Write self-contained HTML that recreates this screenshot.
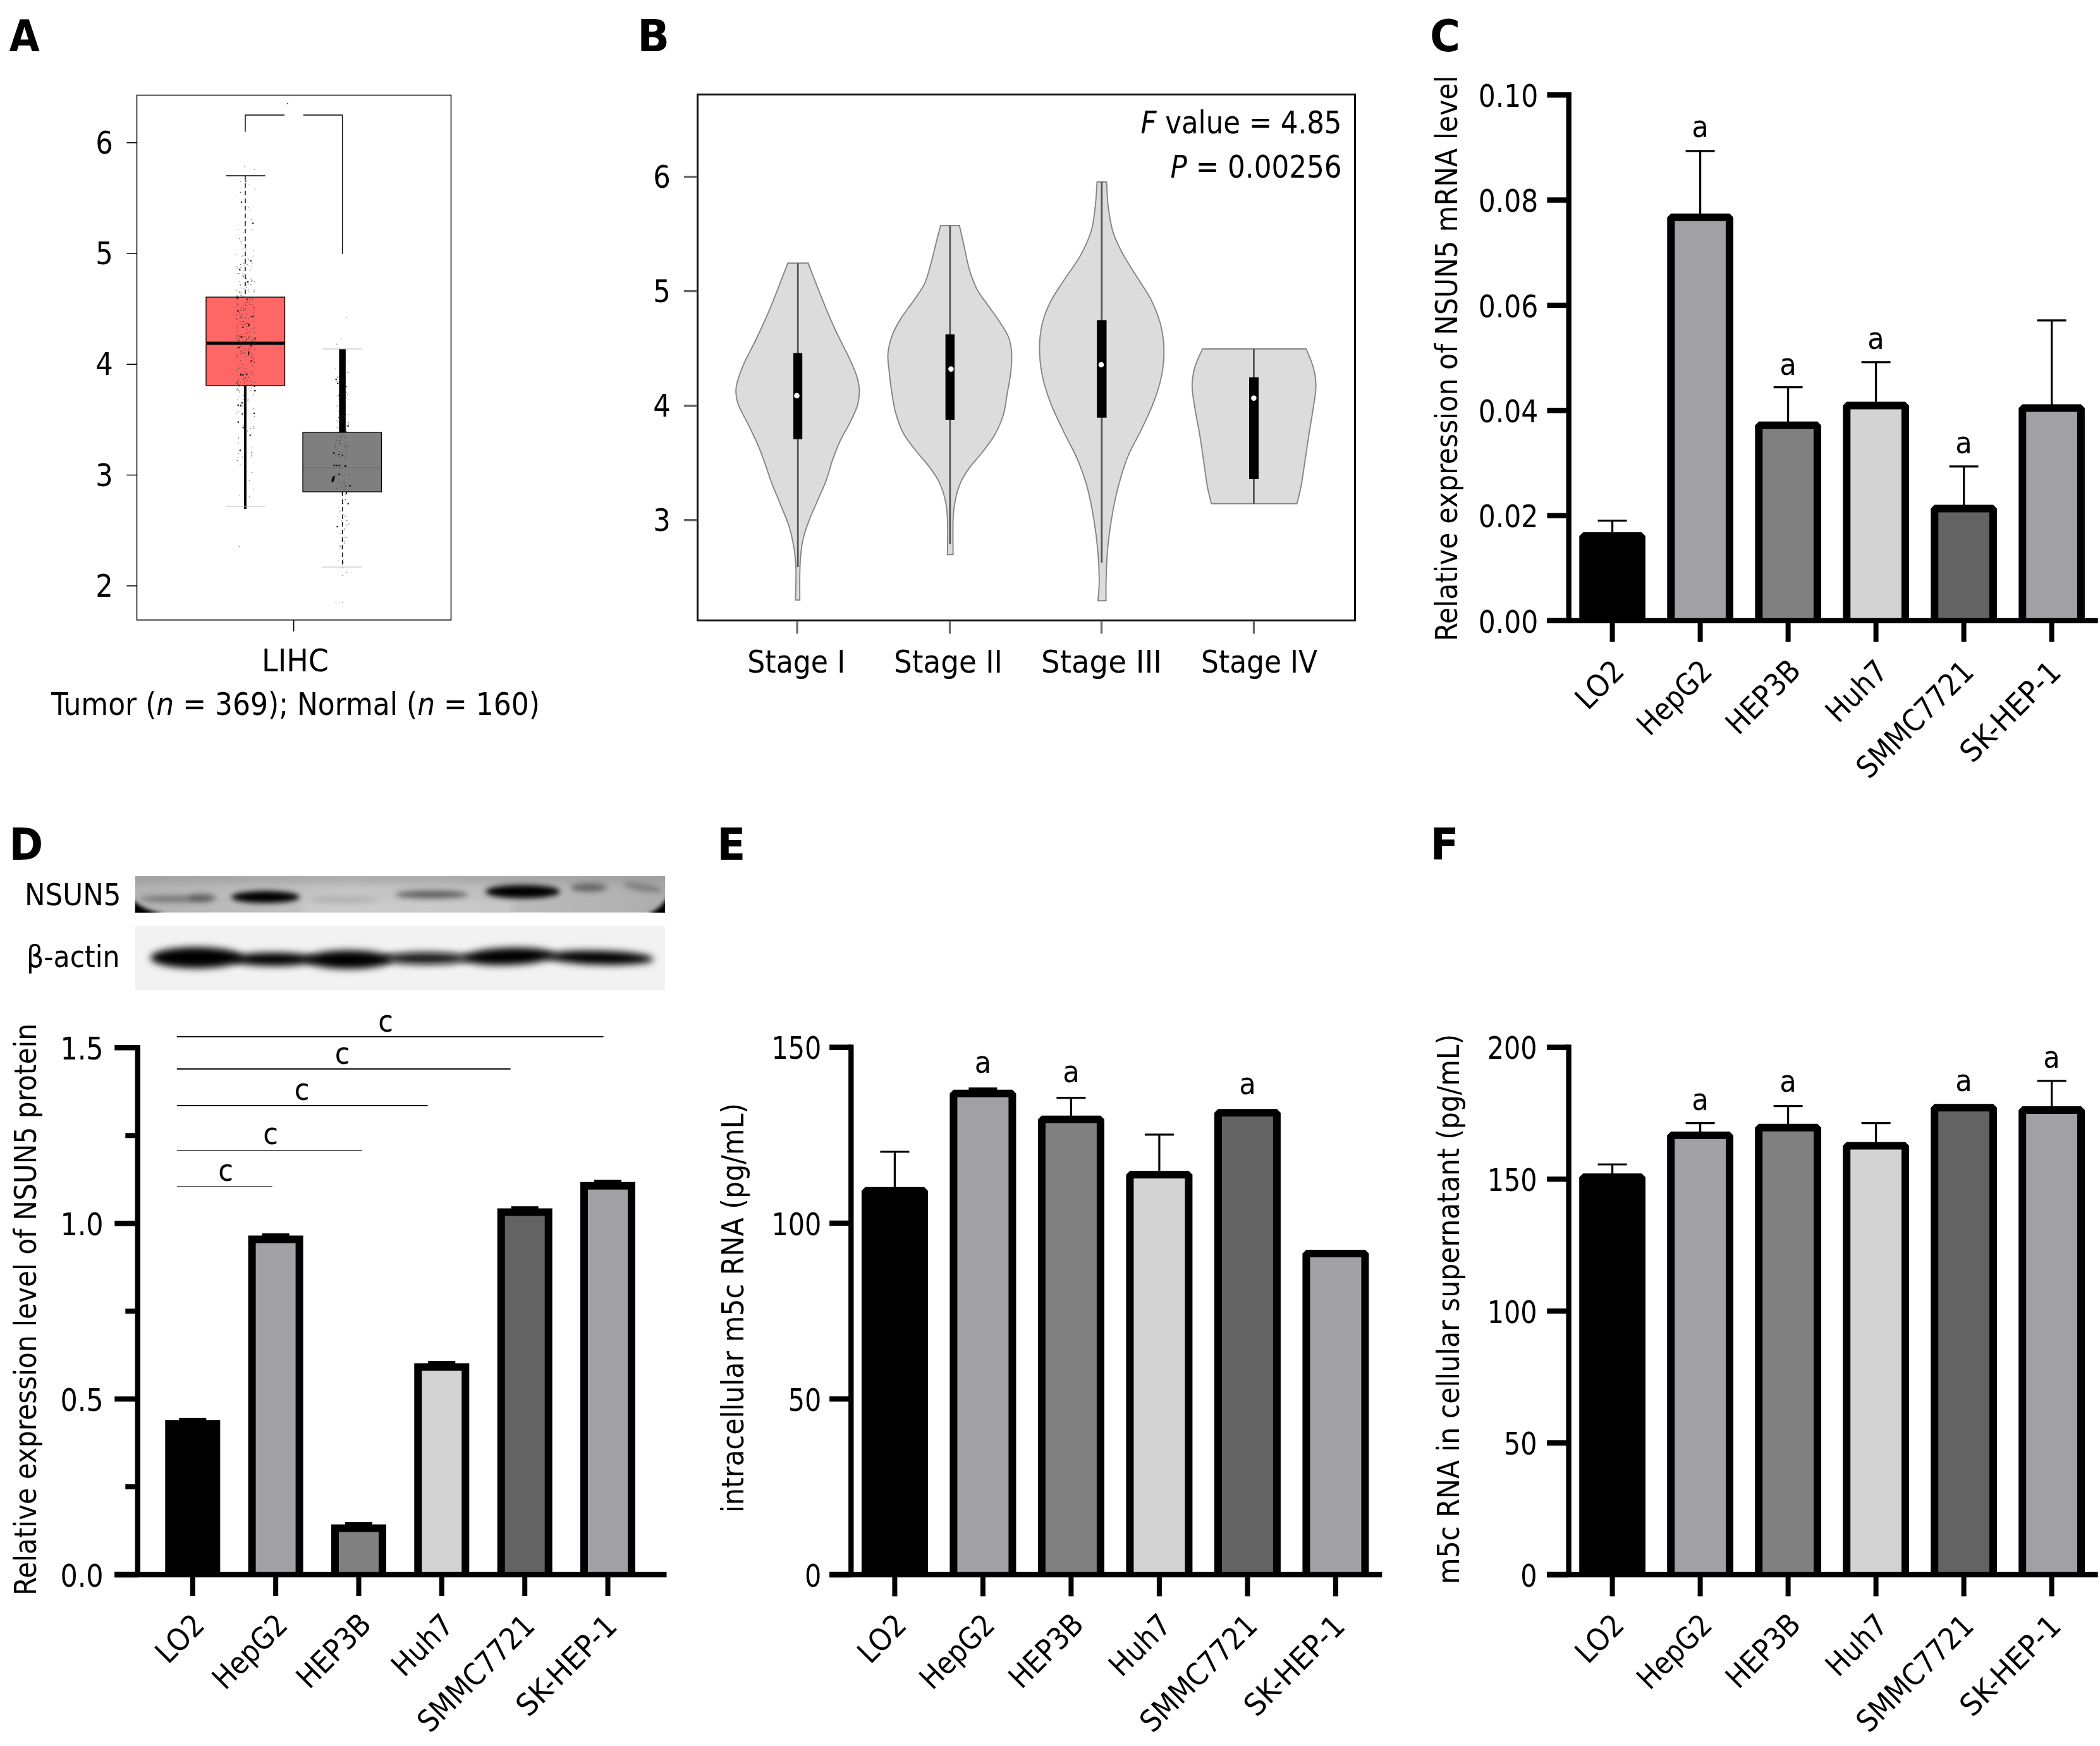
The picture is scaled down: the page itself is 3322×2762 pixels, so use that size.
<!DOCTYPE html>
<html lang="en"><head><meta charset="utf-8"><title>Figure</title>
<style>html,body{margin:0;padding:0;background:#fff}svg{display:block;will-change:transform}text{fill:#000}</style></head>
<body>
<svg width="3322" height="2762" viewBox="0 0 3322 2762" font-family="'DejaVu Sans Condensed', 'DejaVu Sans', 'Liberation Sans', sans-serif" font-stretch="condensed">
<defs>
<filter id="b3" filterUnits="userSpaceOnUse" x="150" y="1340" width="960" height="260"><feGaussianBlur stdDeviation="3"/></filter>
<filter id="b4" filterUnits="userSpaceOnUse" x="150" y="1340" width="960" height="260"><feGaussianBlur stdDeviation="4.5"/></filter>
<filter id="b6" filterUnits="userSpaceOnUse" x="150" y="1340" width="960" height="260"><feGaussianBlur stdDeviation="6"/></filter>
<linearGradient id="g1" x1="0" x2="1" y1="0" y2="0"><stop offset="0" stop-color="#b2b2b2"/><stop offset="0.4" stop-color="#c6c6c6"/><stop offset="0.6" stop-color="#c2c2c2"/><stop offset="1" stop-color="#adadad"/></linearGradient>
<clipPath id="c1"><rect x="213.7" y="1385.7" width="838.3" height="58"/></clipPath>
<clipPath id="c2"><rect x="213.7" y="1464.4" width="838.3" height="101.6"/></clipPath>
</defs>
<rect width="3322" height="2762" fill="#fff"/>

<text x="14.5" y="81" font-size="69.3" font-weight="bold">A</text>
<text x="1008.2" y="81" font-size="69.3" textLength="50.8" lengthAdjust="spacingAndGlyphs" font-weight="bold">B</text>
<text x="2262" y="81" font-size="69.3" textLength="48.0" lengthAdjust="spacingAndGlyphs" font-weight="bold">C</text>
<text x="14.5" y="1360.2" font-size="69.3" textLength="53.8" lengthAdjust="spacingAndGlyphs" font-weight="bold">D</text>
<text x="1134.3" y="1360.2" font-size="69.3" textLength="45.1" lengthAdjust="spacingAndGlyphs" font-weight="bold">E</text>
<text x="2262.6" y="1360.2" font-size="69.3" textLength="45.1" lengthAdjust="spacingAndGlyphs" font-weight="bold">F</text>
<g id="A">
<rect x="326" y="470" width="124.5" height="140" fill="#FF6666" stroke="#000" stroke-width="1.3"/>
<rect x="479" y="684" width="124.5" height="94" fill="#7F7F7F" stroke="#000" stroke-width="1.3"/>
<line x1="480" y1="740" x2="603" y2="740" stroke="#6a6a6a" stroke-width="1"/>
<line x1="388" y1="278" x2="388" y2="470" stroke="#000" stroke-width="1.4" stroke-dasharray="7 5"/>
<line x1="357.5" y1="278" x2="419.5" y2="278" stroke="#000" stroke-width="1.4"/>
<line x1="388" y1="610" x2="388" y2="805" stroke="#000" stroke-width="3.8"/>
<line x1="357.5" y1="801" x2="419.5" y2="801" stroke="#bbb" stroke-width="1"/>
<line x1="327" y1="543" x2="450" y2="543" stroke="#000" stroke-width="5"/>
<line x1="541.6" y1="552" x2="541.6" y2="684" stroke="#000" stroke-width="10.5"/>
<line x1="510" y1="552" x2="573" y2="552" stroke="#bbb" stroke-width="1"/>
<line x1="541.6" y1="778" x2="541.6" y2="899" stroke="#000" stroke-width="1.4" stroke-dasharray="7 5"/>
<line x1="510" y1="897" x2="572" y2="897" stroke="#bbb" stroke-width="1"/>
<path d="M389.1 483.2h1.2M374.1 425.3h1.2M376.7 693.1h1.2M391.8 450.1h1.2M398.8 577.6h1.2M382.3 502.7h1.2M378.4 494.5h1.2M374.8 603.8h1.2M382.4 575.6h1.2M386.6 624.7h1.2M380.3 491.4h1.2M388.8 676.1h1.2M385.5 611.3h1.2M374.2 468.0h1.2M395.9 441.3h1.2M393.9 473.2h1.2M390.4 591.5h1.2M387.2 408.3h1.2M374.8 728.3h1.2M397.7 715.6h1.2M384.6 775.2h1.2M374.8 517.3h1.2M384.7 482.5h1.2M375.4 479.7h1.2M397.6 722.7h1.2M381.4 593.6h1.2M401.7 658.9h1.2M378.3 377.3h1.2M390.7 520.9h1.2M373.1 422.1h1.2M401.6 617.4h1.2M388.5 441.3h1.2M400.0 546.9h1.2M399.2 561.2h1.2M376.1 608.3h1.2M373.0 477.0h1.2M373.8 458.8h1.2M391.4 477.9h1.2M383.9 533.8h1.2M398.5 443.4h1.2M383.3 509.0h1.2M373.7 505.3h1.2M388.8 582.8h1.2M388.8 554.2h1.2M398.9 538.5h1.2M378.0 538.9h1.2M389.0 440.6h1.2M397.3 565.4h1.2M398.6 472.4h1.2M379.8 466.6h1.2M380.8 455.7h1.2M401.7 518.9h1.2M401.7 267.9h1.2M379.6 643.0h1.2M391.7 511.1h1.2M398.2 470.9h1.2M375.5 631.4h1.2M400.3 674.2h1.2M378.4 532.4h1.2M383.0 642.4h1.2M385.0 437.3h1.2M394.7 549.6h1.2M400.1 494.0h1.2M377.4 493.0h1.2M383.5 392.5h1.2M388.8 395.2h1.2M386.0 557.9h1.2M380.6 501.9h1.2M380.2 591.4h1.2M376.9 538.4h1.2M383.6 432.2h1.2M385.6 713.3h1.2M388.0 636.9h1.2M386.2 551.0h1.2M373.1 535.2h1.2M394.8 481.3h1.2M382.8 436.0h1.2M376.2 691.2h1.2M380.5 590.1h1.2M389.9 516.5h1.2M400.4 646.1h1.2M388.4 619.5h1.2M386.6 606.8h1.2M394.0 760.0h1.2M401.3 500.9h1.2M398.2 747.4h1.2M376.6 616.8h1.2M375.2 468.3h1.2M396.5 501.0h1.2M392.8 446.1h1.2M399.5 406.3h1.2M384.9 487.3h1.2M402.7 298.9h1.2M388.5 478.4h1.2M378.9 445.5h1.2M389.6 535.8h1.2M373.5 551.3h1.2M374.9 614.7h1.2M396.7 613.6h1.2M374.2 472.6h1.2M381.1 486.2h1.2M397.6 719.9h1.2M377.5 432.9h1.2M393.6 596.7h1.2M392.0 328.1h1.2M375.5 432.5h1.2M386.6 357.0h1.2M389.6 454.4h1.2M388.8 538.2h1.2M376.3 482.1h1.2M382.4 471.0h1.2M395.8 512.3h1.2M378.7 545.4h1.2M387.9 489.5h1.2M384.8 625.6h1.2M383.3 637.0h1.2M394.2 785.8h1.2M374.6 606.1h1.2M375.1 482.3h1.2M375.5 534.5h1.2M399.1 475.0h1.2M381.8 546.8h1.2M377.7 462.1h1.2M402.2 553.0h1.2M380.3 287.0h1.2M373.0 565.6h1.2M387.2 448.2h1.2M373.1 497.8h1.2M375.7 423.6h1.2M382.1 512.6h1.2M390.6 527.2h1.2M394.5 532.0h1.2M384.7 673.6h1.2M394.7 477.9h1.2M374.3 537.7h1.2M395.0 427.1h1.2M377.2 617.5h1.2M397.1 715.4h1.2M390.5 537.5h1.2M377.0 667.7h1.2M389.8 387.7h1.2M391.8 420.3h1.2M396.9 540.3h1.2M388.1 532.0h1.2M395.1 551.7h1.2M375.2 562.5h1.2M395.2 540.9h1.2M387.8 597.3h1.2M396.0 677.5h1.2M395.3 488.2h1.2M393.2 461.7h1.2M393.3 504.1h1.2M399.8 543.7h1.2M373.5 308.5h1.2M397.6 563.5h1.2M379.3 604.9h1.2M379.3 508.7h1.2M401.6 458.6h1.2M397.6 441.2h1.2M379.9 418.6h1.2M386.5 420.4h1.2M377.2 530.0h1.2M373.1 606.9h1.2M398.2 363.6h1.2M400.0 396.2h1.2M384.2 600.4h1.2M383.8 403.9h1.2M381.6 385.7h1.2M380.5 423.4h1.2M384.2 594.9h1.2M399.5 536.8h1.2M401.2 677.6h1.2M395.6 544.2h1.2M387.2 487.4h1.2M381.9 554.8h1.2M392.7 458.5h1.2M389.7 543.6h1.2M379.2 504.1h1.2M387.9 482.8h1.2M386.5 263.1h1.2M380.2 555.5h1.2M390.1 497.2h1.2M385.4 532.7h1.2M384.3 631.9h1.2M402.0 460.6h1.2M388.1 502.9h1.2M381.1 488.7h1.2M385.0 583.5h1.2M374.0 585.9h1.2M384.7 599.0h1.2M402.2 445.8h1.2M376.3 701.1h1.2M401.2 677.0h1.2M392.4 552.9h1.2M374.2 650.2h1.2M380.0 500.1h1.2M376.8 582.6h1.2M392.1 597.5h1.2M388.7 504.4h1.2M384.6 508.6h1.2M382.0 543.7h1.2M401.8 540.8h1.2M380.0 450.9h1.2M401.8 605.5h1.2M387.9 539.6h1.2M385.6 513.6h1.2M383.1 723.0h1.2M396.9 558.8h1.2M388.1 590.9h1.2M397.6 450.7h1.2M379.6 548.2h1.2M387.9 598.6h1.2M379.7 304.4h1.2M377.4 651.7h1.2M379.4 735.0h1.2M374.8 512.7h1.2M399.9 508.0h1.2M400.9 568.7h1.2M378.6 864.5h1.2M392.9 533.1h1.2M384.2 557.0h1.2M381.4 528.9h1.2M401.7 526.1h1.2M383.7 468.4h1.2M397.7 547.1h1.2M384.2 428.5h1.2M378.8 499.2h1.2M385.3 513.4h1.2M400.6 498.7h1.2M395.4 525.0h1.2M401.7 573.3h1.2M380.9 467.4h1.2M373.1 563.9h1.2M400.5 461.7h1.2M380.0 512.5h1.2M401.7 539.9h1.2M385.9 587.9h1.2M400.8 484.5h1.2M397.7 481.3h1.2M391.2 681.8h1.2M378.9 449.7h1.2M374.0 531.9h1.2M382.8 497.2h1.2M375.9 723.8h1.2M380.0 558.7h1.2M391.6 634.1h1.2M392.9 534.9h1.2M398.2 719.2h1.2M395.1 617.5h1.2M380.4 570.5h1.2M390.3 418.3h1.2M384.9 368.2h1.2M397.3 602.3h1.2M398.2 708.5h1.2M374.2 504.3h1.2M402.2 486.7h1.2M400.9 489.9h1.2M380.8 462.3h1.2M379.5 642.8h1.2M377.2 608.6h1.2M392.5 536.5h1.2M373.3 402.2h1.2M382.4 559.3h1.2M396.9 588.0h1.2M384.9 491.4h1.2M385.3 455.8h1.2M382.2 405.2h1.2M383.7 580.1h1.2M398.9 417.3h1.2M394.8 574.4h1.2M373.2 484.2h1.2M385.2 691.0h1.2M386.8 450.2h1.2M392.2 410.9h1.2M375.7 521.1h1.2M377.4 611.1h1.2M388.6 449.6h1.2M397.1 445.7h1.2M378.9 461.8h1.2M400.8 624.4h1.2M397.7 421.9h1.2M396.6 608.4h1.2M397.9 686.4h1.2M379.5 427.1h1.2M376.7 626.7h1.2M394.7 543.1h1.2M391.8 631.3h1.2M385.6 603.8h1.2M386.4 658.7h1.2M373.7 468.9h1.2M395.9 602.9h1.2M386.7 527.8h1.2M376.9 577.7h1.2M375.8 524.8h1.2M395.0 534.3h1.2M388.1 564.6h1.2M401.5 534.8h1.2M395.0 332.3h1.2M378.8 783.7h1.2M400.5 773.6h1.2M396.7 520.2h1.2M395.7 450.4h1.2M399.9 496.6h1.2M388.1 511.0h1.2M379.2 581.7h1.2M374.1 616.9h1.2M377.8 535.7h1.2M378.1 620.1h1.2M376.5 717.6h1.2M399.2 592.1h1.2M390.4 601.3h1.2M391.9 292.3h1.2M396.9 347.1h1.2M383.8 406.2h1.2M386.3 540.0h1.2M397.6 533.7h1.2M392.2 562.8h1.2M374.0 605.6h1.2M388.4 609.0h1.2M377.0 600.8h1.2M373.1 544.2h1.2M376.2 549.3h1.2M390.7 511.9h1.2M391.7 406.6h1.2M380.3 382.5h1.2M375.9 362.9h1.2M385.1 416.3h1.2M373.3 654.2h1.2M392.4 615.2h1.2M401.1 566.7h1.2M374.3 530.5h1.2M538.9 535.8h1.2M530.3 583.2h1.2M550.7 670.7h1.2M541.2 687.9h1.2M547.9 611.3h1.2M531.1 752.3h1.2M547.2 656.3h1.2M546.4 556.4h1.2M546.3 718.5h1.2M537.4 684.4h1.2M545.7 782.5h1.2M542.2 884.6h1.2M535.8 699.7h1.2M551.2 828.8h1.2M535.7 714.1h1.2M546.4 735.8h1.2M549.4 727.1h1.2M535.3 803.2h1.2M544.6 817.0h1.2M540.3 823.8h1.2M539.6 781.2h1.2M542.5 889.0h1.2M531.7 696.3h1.2M537.6 567.3h1.2M545.3 769.1h1.2M531.4 841.5h1.2M548.0 830.9h1.2M531.5 603.0h1.2M532.4 544.4h1.2M544.0 633.0h1.2M543.9 856.2h1.2M546.7 693.1h1.2M537.0 701.9h1.2M536.2 658.3h1.2M538.1 716.4h1.2M548.7 624.2h1.2M530.7 748.5h1.2M537.6 864.3h1.2M541.8 666.6h1.2M548.0 700.5h1.2M530.0 754.4h1.2M530.1 706.8h1.2M540.8 953.1h1.2M537.6 684.3h1.2M535.7 631.4h1.2M545.4 738.1h1.2M532.4 665.7h1.2M545.3 590.4h1.2M543.8 650.2h1.2M549.8 706.6h1.2M538.3 659.4h1.2M541.7 715.2h1.2M546.6 628.4h1.2M533.4 770.5h1.2M544.6 661.8h1.2M547.0 679.7h1.2M532.8 642.9h1.2M534.2 676.8h1.2M545.5 767.9h1.2M535.4 696.5h1.2M541.5 683.1h1.2M551.5 752.0h1.2M532.2 675.2h1.2M551.6 656.0h1.2M546.1 673.8h1.2M532.4 683.8h1.2M545.3 850.1h1.2M543.9 633.4h1.2M538.9 650.3h1.2M550.0 632.5h1.2M539.3 855.5h1.2M545.9 790.6h1.2M548.8 704.8h1.2M544.1 859.7h1.2M532.2 772.8h1.2M547.2 611.5h1.2M539.3 770.9h1.2M543.7 773.6h1.2M534.0 816.8h1.2M547.1 905.6h1.2M530.8 953.1h1.2M533.5 710.1h1.2M532.2 626.5h1.2M541.9 763.9h1.2M548.2 850.0h1.2M539.0 734.8h1.2M538.6 692.2h1.2M532.7 596.4h1.2M536.0 743.7h1.2M530.3 701.7h1.2M537.7 844.4h1.2M534.9 660.3h1.2M534.8 625.6h1.2M538.6 764.8h1.2M547.8 620.9h1.2M540.3 615.1h1.2M537.8 691.3h1.2M548.0 502.0h1.2M542.1 797.0h1.2M548.3 710.7h1.2M538.3 684.4h1.2M539.4 781.0h1.2M536.2 585.1h1.2M536.6 722.9h1.2M544.5 837.7h1.2M550.4 671.1h1.2M549.9 571.3h1.2M533.1 667.6h1.2M530.3 735.5h1.2M544.4 736.6h1.2M535.1 686.2h1.2M537.6 696.3h1.2M533.7 597.4h1.2M543.4 813.2h1.2M547.3 816.3h1.2M534.3 887.0h1.2M539.6 866.8h1.2M542.2 753.0h1.2M540.3 677.5h1.2M541.9 828.0h1.2M530.1 719.7h1.2M544.6 835.7h1.2M538.2 702.7h1.2M544.0 691.6h1.2M530.6 733.8h1.2M537.3 808.7h1.2M541.2 910.2h1.2M545.8 706.9h1.2M537.4 739.1h1.2M541.6 791.5h1.2M534.6 651.2h1.2M548.2 823.6h1.2M548.2 673.1h1.2M541.1 795.0h1.2M544.4 726.9h1.2M536.6 762.5h1.2M544.0 658.4h1.2M549.5 589.3h1.2M531.1 690.3h1.2M550.3 668.4h1.2M544.5 723.0h1.2M543.6 623.6h1.2M545.3 790.0h1.2M544.7 750.7h1.2M547.0 715.2h1.2M544.4 703.4h1.2M542.4 657.4h1.2M536.6 863.5h1.2M544.1 764.1h1.2M531.2 640.7h1.2M547.8 682.5h1.2" stroke="#2a2a2a" stroke-width="1.15" fill="none" opacity="0.8"/>
<path d="M392.5 557.2h2.2M375.1 491.6h2.2M402.3 618.2h2.2M389.4 592.3h2.2M402.4 542.7h2.2M378.0 426.3h2.2M374.9 471.6h2.2M383.2 517.8h2.2M375.6 640.8h2.2M383.7 676.3h2.2M376.9 549.9h2.2M375.7 667.7h2.2M383.4 592.8h2.2M380.5 532.5h2.2M401.0 653.8h2.2M379.9 593.1h2.2M392.3 513.3h2.2M390.0 473.5h2.2M387.0 639.7h2.2M387.6 630.5h2.2M381.3 533.5h2.2M394.6 688.7h2.2M381.6 637.4h2.2M378.8 712.4h2.2M399.2 353.0h2.2M390.6 446.0h2.2M379.8 641.4h2.2M396.0 546.9h2.2M396.5 571.2h2.2M380.9 319.6h2.2M402.7 535.7h2.2M401.4 610.9h2.2M392.2 515.2h2.2M387.5 286.5h2.2M395.7 412.7h2.2M398.1 500.8h2.2M392.1 560.2h2.2M382.4 654.6h2.2M535.1 719.0h2.2M533.2 606.4h2.2M530.6 600.1h2.2M532.5 833.1h2.2M549.6 796.7h2.2M549.5 674.2h2.2M538.5 607.4h2.2M540.8 720.5h2.2M546.8 780.2h2.2" stroke="#111" stroke-width="2.2" fill="none"/>
<ellipse cx="527" cy="758" rx="2.2" ry="5.5" transform="rotate(18 527 758)" fill="#111"/>
<circle cx="528.6" cy="736.3" r="1.3" fill="#111"/>
<circle cx="532.7" cy="736.3" r="1.3" fill="#111"/>
<circle cx="536.8" cy="736.3" r="1.3" fill="#111"/>
<circle cx="546.4" cy="737.5" r="1.5" fill="#111"/>
<circle cx="528" cy="716.4" r="1.5" fill="#111"/>
<circle cx="536.6" cy="750.3" r="1.3" fill="#111"/>
<circle cx="553.7" cy="768.4" r="1.4" fill="#111"/>
<path d="M388 208.6V182H450M479.7 182H541.6V401.7" fill="none" stroke="#000" stroke-width="1.4"/>
<rect x="454" y="163" width="2" height="2" fill="#555"/>
<rect x="216.5" y="150.5" width="497" height="830.3" fill="none" stroke="#000" stroke-width="1.5"/>
<line x1="200.5" y1="225.8" x2="216.5" y2="225.8" stroke="#000" stroke-width="1.5"/>
<text x="165" y="242.8" font-size="50" text-anchor="middle" textLength="27.5" lengthAdjust="spacingAndGlyphs">6</text>
<line x1="200.5" y1="401" x2="216.5" y2="401" stroke="#000" stroke-width="1.5"/>
<text x="165" y="418" font-size="50" text-anchor="middle" textLength="27.5" lengthAdjust="spacingAndGlyphs">5</text>
<line x1="200.5" y1="576.3" x2="216.5" y2="576.3" stroke="#000" stroke-width="1.5"/>
<text x="165" y="593.3" font-size="50" text-anchor="middle" textLength="27.5" lengthAdjust="spacingAndGlyphs">4</text>
<line x1="200.5" y1="751.5" x2="216.5" y2="751.5" stroke="#000" stroke-width="1.5"/>
<text x="165" y="768.5" font-size="50" text-anchor="middle" textLength="27.5" lengthAdjust="spacingAndGlyphs">3</text>
<line x1="200.5" y1="926.8" x2="216.5" y2="926.8" stroke="#000" stroke-width="1.5"/>
<text x="165" y="943.8" font-size="50" text-anchor="middle" textLength="27.5" lengthAdjust="spacingAndGlyphs">2</text>
<line x1="464.6" y1="981" x2="464.6" y2="998.8" stroke="#000" stroke-width="1.6"/>
<text x="467" y="1062" font-size="49" text-anchor="middle" textLength="106" lengthAdjust="spacingAndGlyphs">LIHC</text>
<text x="81" y="1130.6" font-size="49" textLength="773" lengthAdjust="spacingAndGlyphs">Tumor (<tspan font-style="italic">n</tspan> = 369); Normal (<tspan font-style="italic">n</tspan> = 160)</text>
</g>
<g id="B">
<path d="M1246.3 416.2C1244.0 422.2 1237.3 439.6 1232.3 452.3C1227.3 465.0 1222.3 478.4 1216.3 492.4C1210.3 506.4 1202.9 522.4 1196.2 536.5C1189.6 550.5 1181.2 565.2 1176.2 576.6C1171.2 587.9 1168.2 597.3 1166.2 604.6C1164.2 612.0 1163.8 614.6 1164.2 620.6C1164.5 626.7 1164.8 632.0 1168.2 640.7C1171.5 649.4 1179.0 662.1 1184.2 672.7C1189.4 683.4 1195.0 694.5 1199.4 704.8C1203.8 715.2 1207.1 724.8 1210.7 734.9C1214.3 744.9 1216.9 754.0 1221.1 764.9C1225.2 775.8 1231.0 788.8 1235.5 800.2C1240.1 811.6 1244.9 821.6 1248.3 833.1C1251.8 844.6 1254.5 857.8 1256.4 869.1C1258.2 880.5 1258.8 887.8 1259.2 901.2C1259.5 914.6 1258.5 941.3 1258.4 949.3L1265.2 949.3C1265.2 942.6 1265.0 920.6 1265.2 909.2C1265.4 897.9 1265.5 890.5 1266.4 881.2C1267.2 871.8 1268.2 862.5 1270.4 853.1C1272.5 843.8 1275.5 835.1 1279.2 825.1C1282.9 815.0 1288.2 803.8 1292.8 793.0C1297.4 782.2 1302.8 771.1 1306.9 760.1C1310.9 749.1 1313.5 737.4 1317.3 726.9C1321.0 716.3 1324.8 706.5 1329.3 696.8C1333.8 687.1 1340.0 678.1 1344.5 668.7C1349.1 659.4 1354.1 649.4 1356.6 640.7C1359.0 632.0 1359.7 624.6 1359.4 616.6C1359.0 608.6 1357.4 601.3 1354.5 592.6C1351.7 583.9 1347.5 575.2 1342.5 564.5C1337.5 553.8 1330.2 540.5 1324.5 528.5C1318.8 516.4 1313.8 505.1 1308.5 492.4C1303.1 479.7 1297.4 465.0 1292.4 452.3C1287.4 439.6 1280.7 422.2 1278.4 416.2Z" fill="#DCDCDC" stroke="#858585" stroke-width="1.9"/>
<line x1="1262.2" y1="416.2" x2="1262.2" y2="897" stroke="#555" stroke-width="2.8"/>
<rect x="1255" y="558.5" width="14.2" height="136.3" fill="#000"/>
<circle cx="1260.5" cy="625.9" r="4.3" fill="#fff"/>
<path d="M1488.0 356.9C1486.8 361.5 1483.3 374.3 1480.8 384.2C1478.3 394.1 1475.8 405.5 1472.8 416.2C1469.8 426.9 1467.4 438.3 1462.8 448.3C1458.1 458.3 1451.1 467.0 1444.7 476.4C1438.4 485.7 1430.4 495.1 1424.7 504.4C1419.0 513.8 1414.0 523.1 1410.7 532.5C1407.3 541.8 1405.3 551.2 1404.6 560.5C1404.0 569.9 1405.7 578.6 1406.7 588.6C1407.7 598.6 1409.0 610.0 1410.7 620.6C1412.3 631.3 1413.7 642.0 1416.7 652.7C1419.7 663.4 1423.4 674.7 1428.7 684.8C1434.0 694.8 1442.1 704.1 1448.7 712.8C1455.4 721.5 1462.8 728.9 1468.8 736.9C1474.8 744.9 1480.5 752.2 1484.8 760.9C1489.2 769.6 1492.5 779.0 1494.8 789.0C1497.2 799.0 1498.2 806.3 1498.8 821.0C1499.5 835.7 1498.8 867.8 1498.8 877.2L1507.7 877.2C1507.7 867.8 1507.1 835.1 1507.7 821.0C1508.2 807.0 1509.0 802.3 1510.9 793.0C1512.7 783.6 1515.2 773.6 1518.9 764.9C1522.6 756.2 1527.2 748.9 1532.9 740.9C1538.6 732.9 1546.3 725.5 1552.9 716.8C1559.6 708.1 1567.3 698.8 1573.0 688.8C1578.7 678.8 1583.7 667.4 1587.0 656.7C1590.4 646.0 1591.0 636.0 1593.0 624.6C1595.0 613.3 1597.8 599.9 1599.0 588.6C1600.2 577.2 1600.9 565.9 1600.2 556.5C1599.6 547.2 1598.2 540.5 1595.0 532.5C1591.8 524.4 1586.7 517.1 1581.0 508.4C1575.3 499.7 1567.0 489.0 1561.0 480.4C1554.9 471.7 1549.6 465.7 1544.9 456.3C1540.3 447.0 1536.2 435.6 1532.9 424.2C1529.6 412.9 1527.4 399.4 1524.9 388.2C1522.4 377.0 1518.9 362.1 1517.7 356.9Z" fill="#DCDCDC" stroke="#858585" stroke-width="1.9"/>
<line x1="1502.8" y1="357" x2="1502.8" y2="861" stroke="#555" stroke-width="2.8"/>
<rect x="1495.6" y="529" width="14.4" height="135" fill="#000"/>
<circle cx="1504.4" cy="583.8" r="4.3" fill="#fff"/>
<path d="M1735.5 287.8C1735.0 294.4 1734.1 314.3 1732.5 327.3C1730.9 340.3 1730.0 353.1 1726.0 366.0C1722.1 378.9 1716.0 391.8 1708.9 404.6C1701.7 417.5 1691.0 431.1 1683.1 443.3C1675.2 455.5 1667.3 466.2 1661.6 477.7C1655.9 489.1 1651.6 499.9 1648.7 512.0C1645.9 524.2 1644.4 537.1 1644.4 550.7C1644.4 564.3 1645.9 579.3 1648.7 593.6C1651.6 608.0 1655.9 621.6 1661.6 636.6C1667.3 651.6 1675.9 668.8 1683.1 683.8C1690.3 698.9 1698.5 712.5 1704.6 726.8C1710.7 741.1 1715.3 754.0 1719.6 769.8C1723.9 785.5 1727.5 804.1 1730.3 821.3C1733.2 838.5 1735.4 856.4 1736.8 872.9C1738.2 889.3 1738.9 907.2 1738.9 920.1C1738.9 933.0 1737.1 945.2 1736.8 950.2L1749.7 950.2C1749.7 945.2 1749.3 933.0 1749.7 920.1C1750.0 907.2 1750.4 889.3 1751.8 872.9C1753.3 856.4 1755.4 838.5 1758.3 821.3C1761.1 804.1 1764.7 786.2 1769.0 769.8C1773.3 753.3 1778.0 737.5 1784.0 722.5C1790.1 707.5 1798.7 693.9 1805.5 679.6C1812.3 665.2 1819.5 650.9 1824.8 636.6C1830.2 622.3 1835.0 608.0 1837.7 593.6C1840.5 579.3 1841.5 564.3 1841.2 550.7C1840.8 537.1 1839.0 524.9 1835.6 512.0C1832.1 499.1 1826.6 485.5 1820.5 473.4C1814.5 461.2 1806.6 451.2 1799.1 439.0C1791.6 426.8 1781.9 412.5 1775.4 400.3C1769.0 388.2 1764.1 378.2 1760.4 366.0C1756.7 353.8 1754.8 340.3 1753.1 327.3C1751.5 314.3 1751.0 294.4 1750.5 287.8Z" fill="#DCDCDC" stroke="#858585" stroke-width="1.9"/>
<line x1="1742.8" y1="287.8" x2="1742.8" y2="890" stroke="#555" stroke-width="2.8"/>
<rect x="1735" y="506.4" width="15.5" height="154.3" fill="#000"/>
<circle cx="1742" cy="577" r="4.3" fill="#fff"/>
<path d="M1902.2 552.0C1900.2 556.8 1892.9 570.9 1890.1 580.8C1887.4 590.6 1885.8 600.1 1885.8 610.8C1885.8 621.6 1888.1 632.3 1890.1 645.2C1892.1 658.1 1895.5 673.8 1897.9 688.1C1900.2 702.5 1902.3 717.5 1904.3 731.1C1906.3 744.7 1907.9 758.8 1909.9 769.8C1911.9 780.7 1915.3 792.3 1916.3 796.8L2051.6 796.8C2052.7 792.3 2056.0 780.7 2058.1 769.8C2060.2 758.8 2062.0 744.7 2064.1 731.1C2066.2 717.5 2068.3 702.5 2070.5 688.1C2072.8 673.8 2075.6 658.1 2077.4 645.2C2079.3 632.3 2081.7 621.6 2081.7 610.8C2081.7 600.1 2080.0 590.6 2077.4 580.8C2074.8 570.9 2068.1 556.8 2066.3 552.0Z" fill="#DCDCDC" stroke="#858585" stroke-width="1.9"/>
<line x1="1983.4" y1="552" x2="1983.4" y2="796.8" stroke="#555" stroke-width="2.8"/>
<rect x="1976" y="597" width="15" height="161" fill="#000"/>
<circle cx="1983.4" cy="629.7" r="4.3" fill="#fff"/>
<rect x="1103.5" y="149.5" width="1040" height="832" fill="none" stroke="#111" stroke-width="3"/>
<line x1="1082" y1="279.7" x2="1103" y2="279.7" stroke="#666" stroke-width="3.4"/>
<text x="1047" y="296.7" font-size="50" text-anchor="middle" textLength="27.5" lengthAdjust="spacingAndGlyphs">6</text>
<line x1="1082" y1="460.5" x2="1103" y2="460.5" stroke="#666" stroke-width="3.4"/>
<text x="1047" y="477.5" font-size="50" text-anchor="middle" textLength="27.5" lengthAdjust="spacingAndGlyphs">5</text>
<line x1="1082" y1="642" x2="1103" y2="642" stroke="#666" stroke-width="3.4"/>
<text x="1047" y="659" font-size="50" text-anchor="middle" textLength="27.5" lengthAdjust="spacingAndGlyphs">4</text>
<line x1="1082" y1="822.7" x2="1103" y2="822.7" stroke="#666" stroke-width="3.4"/>
<text x="1047" y="839.7" font-size="50" text-anchor="middle" textLength="27.5" lengthAdjust="spacingAndGlyphs">3</text>
<line x1="1261" y1="982" x2="1261" y2="1002.5" stroke="#6a6a6a" stroke-width="3.2"/>
<line x1="1502.5" y1="982" x2="1502.5" y2="1002.5" stroke="#6a6a6a" stroke-width="3.2"/>
<line x1="1742.5" y1="982" x2="1742.5" y2="1002.5" stroke="#6a6a6a" stroke-width="3.2"/>
<line x1="1983.4" y1="982" x2="1983.4" y2="1002.5" stroke="#6a6a6a" stroke-width="3.2"/>
<text x="1259.7" y="1064" font-size="49" text-anchor="middle" textLength="155" lengthAdjust="spacingAndGlyphs">Stage I</text>
<text x="1499.9" y="1064" font-size="49" text-anchor="middle" textLength="172" lengthAdjust="spacingAndGlyphs">Stage II</text>
<text x="1742.5" y="1064" font-size="49" text-anchor="middle" textLength="191" lengthAdjust="spacingAndGlyphs">Stage III</text>
<text x="1992" y="1064" font-size="49" text-anchor="middle" textLength="184" lengthAdjust="spacingAndGlyphs">Stage IV</text>
<text x="2122.5" y="211" font-size="49" text-anchor="end" textLength="318" lengthAdjust="spacingAndGlyphs"><tspan font-style="italic">F</tspan> value = 4.85</text>
<text x="2122.5" y="281.2" font-size="49" text-anchor="end" textLength="271" lengthAdjust="spacingAndGlyphs"><tspan font-style="italic">P</tspan> = 0.00256</text>
</g>
<g id="C">
<path d="M2504.3 981.9V847.9H2596.9V981.9" fill="#000000" stroke="#000" stroke-width="12" stroke-linejoin="bevel"/>
<path d="M2643.3 981.9V343.8H2735.9V981.9" fill="#A1A0A5" stroke="#000" stroke-width="12" stroke-linejoin="bevel"/>
<path d="M2782.3 981.9V672.7H2874.9V981.9" fill="#808080" stroke="#000" stroke-width="12" stroke-linejoin="bevel"/>
<path d="M2921.3 981.9V641.4H3013.9V981.9" fill="#D3D3D3" stroke="#000" stroke-width="12" stroke-linejoin="bevel"/>
<path d="M3060.3 981.9V804.5H3152.9V981.9" fill="#636363" stroke="#000" stroke-width="12" stroke-linejoin="bevel"/>
<path d="M3199.3 981.9V645.5H3291.9V981.9" fill="#A1A0A5" stroke="#000" stroke-width="12" stroke-linejoin="bevel"/>
<path d="M2527.6 823.7H2573.6M2550.6 823.7V843.9" fill="none" stroke="#000" stroke-width="3.2"/>
<path d="M2666.6 238.8H2712.6M2689.6 238.8V339.8" fill="none" stroke="#000" stroke-width="3.2"/>
<path d="M2805.6 612.7H2851.6M2828.6 612.7V668.7" fill="none" stroke="#000" stroke-width="3.2"/>
<path d="M2944.6 572.8H2990.6M2967.6 572.8V637.4" fill="none" stroke="#000" stroke-width="3.2"/>
<path d="M3083.6 737.8H3129.6M3106.6 737.8V800.5" fill="none" stroke="#000" stroke-width="3.2"/>
<path d="M3222.6 506.9H3268.6M3245.6 506.9V641.5" fill="none" stroke="#000" stroke-width="3.2"/>
<text x="2689.6" y="216.8" font-size="48" text-anchor="middle">a</text>
<text x="2828.6" y="593" font-size="48" text-anchor="middle">a</text>
<text x="2967.6" y="552" font-size="48" text-anchor="middle">a</text>
<text x="3106.6" y="717.3" font-size="48" text-anchor="middle">a</text>
<line x1="2481.7" y1="145.89999999999998" x2="2481.7" y2="985.9" stroke="#000" stroke-width="8.3"/>
<line x1="2447.4" y1="981.9" x2="3318.7" y2="981.9" stroke="#000" stroke-width="8.3"/>
<line x1="2447.4" y1="150.2" x2="2481.7" y2="150.2" stroke="#000" stroke-width="8.4"/>
<text x="2433.3" y="168.79999999999998" font-size="50" text-anchor="end" textLength="94.5" lengthAdjust="spacingAndGlyphs">0.10</text>
<line x1="2447.4" y1="316.5" x2="2481.7" y2="316.5" stroke="#000" stroke-width="8.4"/>
<text x="2433.3" y="335.1" font-size="50" text-anchor="end" textLength="94.5" lengthAdjust="spacingAndGlyphs">0.08</text>
<line x1="2447.4" y1="482.9" x2="2481.7" y2="482.9" stroke="#000" stroke-width="8.4"/>
<text x="2433.3" y="501.5" font-size="50" text-anchor="end" textLength="94.5" lengthAdjust="spacingAndGlyphs">0.06</text>
<line x1="2447.4" y1="649.2" x2="2481.7" y2="649.2" stroke="#000" stroke-width="8.4"/>
<text x="2433.3" y="667.8000000000001" font-size="50" text-anchor="end" textLength="94.5" lengthAdjust="spacingAndGlyphs">0.04</text>
<line x1="2447.4" y1="815.6" x2="2481.7" y2="815.6" stroke="#000" stroke-width="8.4"/>
<text x="2433.3" y="834.2" font-size="50" text-anchor="end" textLength="94.5" lengthAdjust="spacingAndGlyphs">0.02</text>
<line x1="2447.4" y1="981.9" x2="2481.7" y2="981.9" stroke="#000" stroke-width="8.4"/>
<text x="2433.3" y="1000.5" font-size="50" text-anchor="end" textLength="94.5" lengthAdjust="spacingAndGlyphs">0.00</text>
<line x1="2550.6" y1="981.9" x2="2550.6" y2="1015.3" stroke="#000" stroke-width="8"/>
<line x1="2689.6" y1="981.9" x2="2689.6" y2="1015.3" stroke="#000" stroke-width="8"/>
<line x1="2828.6" y1="981.9" x2="2828.6" y2="1015.3" stroke="#000" stroke-width="8"/>
<line x1="2967.6" y1="981.9" x2="2967.6" y2="1015.3" stroke="#000" stroke-width="8"/>
<line x1="3106.6" y1="981.9" x2="3106.6" y2="1015.3" stroke="#000" stroke-width="8"/>
<line x1="3245.6" y1="981.9" x2="3245.6" y2="1015.3" stroke="#000" stroke-width="8"/>
<text transform="translate(2572.1,1064.5) rotate(-45)" font-size="48" text-anchor="end" textLength="85.5" lengthAdjust="spacingAndGlyphs">LO2</text>
<text transform="translate(2711.1,1064.5) rotate(-45)" font-size="48" text-anchor="end" textLength="143.7" lengthAdjust="spacingAndGlyphs">HepG2</text>
<text transform="translate(2851.1,1063.5) rotate(-45)" font-size="48" text-anchor="end" textLength="142.9" lengthAdjust="spacingAndGlyphs">HEP3B</text>
<text transform="translate(2989.1,1064.5) rotate(-45)" font-size="48" text-anchor="end" textLength="114.7" lengthAdjust="spacingAndGlyphs">Huh7</text>
<text transform="translate(3125.1,1065.5) rotate(-45)" font-size="48" text-anchor="end" textLength="238.4" lengthAdjust="spacingAndGlyphs">SMMC7721</text>
<text transform="translate(3263.1,1066.0) rotate(-45)" font-size="48" text-anchor="end" textLength="201.9" lengthAdjust="spacingAndGlyphs">SK-HEP-1</text>
<text transform="translate(2305,567) rotate(-90)" font-size="48" text-anchor="middle" textLength="895" lengthAdjust="spacingAndGlyphs">Relative expression of NSUN5 mRNA level</text>
</g>
<g id="D">
<text x="191.5" y="1432" font-size="48" text-anchor="end" textLength="152.6" lengthAdjust="spacingAndGlyphs">NSUN5</text>
<text x="189.5" y="1530" font-size="48" text-anchor="end" textLength="147.4" lengthAdjust="spacingAndGlyphs">β-actin</text>
<g clip-path="url(#c1)"><rect x="213.7" y="1385.7" width="838.3" height="58" fill="url(#g1)"/>
<rect x="200" y="1378" width="870" height="20" fill="#8e8e8e" opacity="0.45" filter="url(#b6)"/>
<rect x="480" y="1425" width="330" height="30" fill="#d2d2d2" opacity="0.5" filter="url(#b6)"/>
<g opacity="0.5" filter="url(#b4)"><ellipse cx="280.0" cy="1422" rx="58.0" ry="5.5" fill="#3a3a3a"/><rect x="235.9" y="1418.0" width="88.2" height="7.9" rx="4.0" fill="#3a3a3a"/></g>
<g opacity="0.45" filter="url(#b4)"><ellipse cx="320.0" cy="1420" rx="22.0" ry="6.0" fill="#2a2a2a"/><rect x="303.3" y="1415.7" width="33.4" height="8.6" rx="4.3" fill="#2a2a2a"/></g>
<g opacity="1" filter="url(#b4)"><ellipse cx="420.0" cy="1419" rx="54.0" ry="9.5" fill="#000"/><rect x="379.0" y="1412.2" width="82.1" height="13.7" rx="6.8" fill="#000"/></g>
<g opacity="0.3" filter="url(#b4)"><ellipse cx="545.0" cy="1424" rx="53.0" ry="4.5" fill="#777"/><rect x="504.7" y="1420.8" width="80.6" height="6.5" rx="3.2" fill="#777"/></g>
<g opacity="0.62" filter="url(#b4)"><ellipse cx="683.0" cy="1415" rx="57.0" ry="6.5" fill="#2c2c2c"/><rect x="639.7" y="1410.3" width="86.6" height="9.4" rx="4.7" fill="#2c2c2c"/></g>
<g opacity="1" filter="url(#b4)"><ellipse cx="827.0" cy="1410.5" rx="59.0" ry="10.5" fill="#000"/><rect x="782.2" y="1402.9" width="89.7" height="15.1" rx="7.6" fill="#000"/></g>
<g opacity="0.6" filter="url(#b4)"><ellipse cx="931.5" cy="1404" rx="28.5" ry="6.5" fill="#333"/><rect x="909.8" y="1399.3" width="43.3" height="9.4" rx="4.7" fill="#333"/></g>
<g opacity="0.5" filter="url(#b4)" transform="rotate(9 1017.0 1404)"><ellipse cx="1017.0" cy="1404" rx="31.0" ry="5.0" fill="#444"/><rect x="993.4" y="1400.4" width="47.1" height="7.2" rx="3.6" fill="#444"/></g>
<path d="M205 1418 Q222 1440 262 1446 L205 1452Z" fill="#000" filter="url(#b3)"/>
<path d="M1060 1414 Q1046 1438 1024 1446 L1060 1452Z" fill="#000" filter="url(#b3)"/>
</g>
<g clip-path="url(#c2)"><rect x="213.7" y="1464.4" width="838.3" height="101.6" fill="#f2f2f2"/>
<g opacity="1" filter="url(#b6)"><ellipse cx="311.0" cy="1515" rx="73.0" ry="16.5" fill="#000"/><rect x="255.5" y="1503.1" width="111.0" height="23.8" rx="11.9" fill="#000"/></g>
<g opacity="1" filter="url(#b6)"><ellipse cx="433.0" cy="1517.5" rx="67.0" ry="10.5" fill="#000"/><rect x="382.1" y="1509.9" width="101.8" height="15.1" rx="7.6" fill="#000"/></g>
<g opacity="1" filter="url(#b6)"><ellipse cx="552.0" cy="1518" rx="68.0" ry="14.5" fill="#000"/><rect x="500.3" y="1507.6" width="103.4" height="20.9" rx="10.4" fill="#000"/></g>
<g opacity="0.97" filter="url(#b6)"><ellipse cx="674.0" cy="1516" rx="70.0" ry="9.5" fill="#0a0a0a"/><rect x="620.8" y="1509.2" width="106.4" height="13.7" rx="6.8" fill="#0a0a0a"/></g>
<g opacity="1" filter="url(#b6)" transform="rotate(-2 804.5 1513)"><ellipse cx="804.5" cy="1513" rx="72.5" ry="13.5" fill="#000"/><rect x="749.4" y="1503.3" width="110.2" height="19.4" rx="9.7" fill="#000"/></g>
<g opacity="1" filter="url(#b6)" transform="rotate(1.5 949.0 1515)"><ellipse cx="949.0" cy="1515" rx="85.0" ry="11.0" fill="#000"/><rect x="884.4" y="1507.1" width="129.2" height="15.8" rx="7.9" fill="#000"/></g>
</g>
<path d="M267.3 2491V2252.3H342.3V2491" fill="#000000" stroke="#000" stroke-width="12" stroke-linejoin="miter"/>
<path d="M398.6 2491V1960.5H473.6V2491" fill="#A1A0A5" stroke="#000" stroke-width="12" stroke-linejoin="miter"/>
<path d="M530.0 2491V2417.4H605.0V2491" fill="#808080" stroke="#000" stroke-width="12" stroke-linejoin="miter"/>
<path d="M661.3 2491V2162.4H736.3V2491" fill="#D3D3D3" stroke="#000" stroke-width="12" stroke-linejoin="miter"/>
<path d="M792.7 2491V1917.6H867.7V2491" fill="#636363" stroke="#000" stroke-width="12" stroke-linejoin="miter"/>
<path d="M924.0 2491V1875.8H999.0V2491" fill="#A1A0A5" stroke="#000" stroke-width="12" stroke-linejoin="miter"/>
<rect x="283.3" y="2242.9" width="43" height="6" fill="#000"/>
<rect x="414.6" y="1951.1" width="43" height="6" fill="#000"/>
<rect x="546.0" y="2408.0" width="43" height="6" fill="#000"/>
<rect x="677.3" y="2153.0" width="43" height="6" fill="#000"/>
<rect x="808.7" y="1908.2" width="43" height="6" fill="#000"/>
<rect x="940.0" y="1866.4" width="43" height="6" fill="#000"/>
<line x1="217.8" y1="1653.0" x2="217.8" y2="2495" stroke="#000" stroke-width="8.3"/>
<line x1="181.3" y1="2491" x2="1054.5" y2="2491" stroke="#000" stroke-width="8.3"/>
<line x1="181.3" y1="1657.3" x2="217.8" y2="1657.3" stroke="#000" stroke-width="8.4"/>
<text x="163.60000000000002" y="1675.8999999999999" font-size="50" text-anchor="end" textLength="68.2" lengthAdjust="spacingAndGlyphs">1.5</text>
<line x1="181.3" y1="1935.2" x2="217.8" y2="1935.2" stroke="#000" stroke-width="8.4"/>
<text x="163.60000000000002" y="1953.8" font-size="50" text-anchor="end" textLength="68.2" lengthAdjust="spacingAndGlyphs">1.0</text>
<line x1="181.3" y1="2213.1" x2="217.8" y2="2213.1" stroke="#000" stroke-width="8.4"/>
<text x="163.60000000000002" y="2231.7" font-size="50" text-anchor="end" textLength="68.2" lengthAdjust="spacingAndGlyphs">0.5</text>
<line x1="181.3" y1="2491" x2="217.8" y2="2491" stroke="#000" stroke-width="8.4"/>
<text x="163.60000000000002" y="2509.6" font-size="50" text-anchor="end" textLength="68.2" lengthAdjust="spacingAndGlyphs">0.0</text>
<line x1="198.3" y1="1796.3" x2="217.8" y2="1796.3" stroke="#000" stroke-width="8"/>
<line x1="198.3" y1="2074.1" x2="217.8" y2="2074.1" stroke="#000" stroke-width="8"/>
<line x1="198.3" y1="2352" x2="217.8" y2="2352" stroke="#000" stroke-width="8"/>
<line x1="304.8" y1="2491" x2="304.8" y2="2525" stroke="#000" stroke-width="8"/>
<line x1="436.15" y1="2491" x2="436.15" y2="2525" stroke="#000" stroke-width="8"/>
<line x1="567.5" y1="2491" x2="567.5" y2="2525" stroke="#000" stroke-width="8"/>
<line x1="698.8499999999999" y1="2491" x2="698.8499999999999" y2="2525" stroke="#000" stroke-width="8"/>
<line x1="830.2" y1="2491" x2="830.2" y2="2525" stroke="#000" stroke-width="8"/>
<line x1="961.55" y1="2491" x2="961.55" y2="2525" stroke="#000" stroke-width="8"/>
<text transform="translate(326.3,2573.5) rotate(-45)" font-size="48" text-anchor="end" textLength="85.5" lengthAdjust="spacingAndGlyphs">LO2</text>
<text transform="translate(457.6,2573.5) rotate(-45)" font-size="48" text-anchor="end" textLength="143.7" lengthAdjust="spacingAndGlyphs">HepG2</text>
<text transform="translate(590.0,2572.5) rotate(-45)" font-size="48" text-anchor="end" textLength="142.9" lengthAdjust="spacingAndGlyphs">HEP3B</text>
<text transform="translate(720.3,2573.5) rotate(-45)" font-size="48" text-anchor="end" textLength="114.7" lengthAdjust="spacingAndGlyphs">Huh7</text>
<text transform="translate(848.7,2574.5) rotate(-45)" font-size="48" text-anchor="end" textLength="238.4" lengthAdjust="spacingAndGlyphs">SMMC7721</text>
<text transform="translate(979.0,2575.0) rotate(-45)" font-size="48" text-anchor="end" textLength="201.9" lengthAdjust="spacingAndGlyphs">SK-HEP-1</text>
<text transform="translate(56.8,2071.5) rotate(-90)" font-size="48" text-anchor="middle" textLength="905" lengthAdjust="spacingAndGlyphs">Relative expression level of NSUN5 protein</text>
<line x1="279.8" y1="1640.1" x2="954.6" y2="1640.1" stroke="#111" stroke-width="2"/>
<line x1="279.8" y1="1691.1" x2="807.6" y2="1691.1" stroke="#111" stroke-width="2"/>
<line x1="279.8" y1="1749" x2="676.6" y2="1749" stroke="#111" stroke-width="2"/>
<line x1="279.8" y1="1819.7" x2="572.5" y2="1819.7" stroke="#333" stroke-width="1.4"/>
<line x1="279.8" y1="1877.3" x2="430.8" y2="1877.3" stroke="#333" stroke-width="1.4"/>
<text x="610" y="1631.5" font-size="48" text-anchor="middle">c</text>
<text x="541.6" y="1683" font-size="48" text-anchor="middle">c</text>
<text x="477.7" y="1739.8" font-size="48" text-anchor="middle">c</text>
<text x="428" y="1810" font-size="48" text-anchor="middle">c</text>
<text x="357" y="1868.4" font-size="48" text-anchor="middle">c</text>
</g>
<g id="E">
<path d="M1368.9 2491V1883.8H1461.9V2491" fill="#000000" stroke="#000" stroke-width="12" stroke-linejoin="bevel"/>
<path d="M1508.4 2491V1729.7H1601.4V2491" fill="#A1A0A5" stroke="#000" stroke-width="12" stroke-linejoin="bevel"/>
<path d="M1647.9 2491V1770.7H1740.9V2491" fill="#808080" stroke="#000" stroke-width="12" stroke-linejoin="bevel"/>
<path d="M1787.4 2491V1858.2H1880.4V2491" fill="#D3D3D3" stroke="#000" stroke-width="12" stroke-linejoin="bevel"/>
<path d="M1926.9 2491V1760.2H2019.9V2491" fill="#636363" stroke="#000" stroke-width="12" stroke-linejoin="bevel"/>
<path d="M2066.4 2491V1983.1H2159.4V2491" fill="#A1A0A5" stroke="#000" stroke-width="12" stroke-linejoin="bevel"/>
<path d="M1392.4 1822H1438.4M1415.4 1822V1879.8" fill="none" stroke="#000" stroke-width="3.2"/>
<path d="M1671.4 1736.6H1717.4M1694.4 1736.6V1766.7" fill="none" stroke="#000" stroke-width="3.2"/>
<path d="M1810.9 1794.8H1856.9M1833.9 1794.8V1854.2" fill="none" stroke="#000" stroke-width="3.2"/>
<rect x="1532.4" y="1720.3" width="45" height="6" fill="#000"/>
<text x="1554.9" y="1697.4" font-size="48" text-anchor="middle">a</text>
<text x="1694.4" y="1712.3" font-size="48" text-anchor="middle">a</text>
<text x="1973.4" y="1730.7" font-size="48" text-anchor="middle">a</text>
<line x1="1346.3" y1="1652.5" x2="1346.3" y2="2495" stroke="#000" stroke-width="8.3"/>
<line x1="1312.1" y1="2491" x2="2186.3" y2="2491" stroke="#000" stroke-width="8.3"/>
<line x1="1312.1" y1="1656.8" x2="1346.3" y2="1656.8" stroke="#000" stroke-width="8.4"/>
<text x="1299.2" y="1675.3999999999999" font-size="50" text-anchor="end" textLength="78.8" lengthAdjust="spacingAndGlyphs">150</text>
<line x1="1312.1" y1="1934.9" x2="1346.3" y2="1934.9" stroke="#000" stroke-width="8.4"/>
<text x="1299.2" y="1953.5" font-size="50" text-anchor="end" textLength="78.8" lengthAdjust="spacingAndGlyphs">100</text>
<line x1="1312.1" y1="2213" x2="1346.3" y2="2213" stroke="#000" stroke-width="8.4"/>
<text x="1299.2" y="2231.6" font-size="50" text-anchor="end" textLength="52.5" lengthAdjust="spacingAndGlyphs">50</text>
<line x1="1312.1" y1="2491" x2="1346.3" y2="2491" stroke="#000" stroke-width="8.4"/>
<text x="1299.2" y="2509.6" font-size="50" text-anchor="end" textLength="26.3" lengthAdjust="spacingAndGlyphs">0</text>
<line x1="1415.4" y1="2491" x2="1415.4" y2="2525.3" stroke="#000" stroke-width="8"/>
<line x1="1554.9" y1="2491" x2="1554.9" y2="2525.3" stroke="#000" stroke-width="8"/>
<line x1="1694.4" y1="2491" x2="1694.4" y2="2525.3" stroke="#000" stroke-width="8"/>
<line x1="1833.9" y1="2491" x2="1833.9" y2="2525.3" stroke="#000" stroke-width="8"/>
<line x1="1973.4" y1="2491" x2="1973.4" y2="2525.3" stroke="#000" stroke-width="8"/>
<line x1="2112.9" y1="2491" x2="2112.9" y2="2525.3" stroke="#000" stroke-width="8"/>
<text transform="translate(1436.9,2573.5) rotate(-45)" font-size="48" text-anchor="end" textLength="85.5" lengthAdjust="spacingAndGlyphs">LO2</text>
<text transform="translate(1576.4,2573.5) rotate(-45)" font-size="48" text-anchor="end" textLength="143.7" lengthAdjust="spacingAndGlyphs">HepG2</text>
<text transform="translate(1716.9,2572.5) rotate(-45)" font-size="48" text-anchor="end" textLength="142.9" lengthAdjust="spacingAndGlyphs">HEP3B</text>
<text transform="translate(1855.4,2573.5) rotate(-45)" font-size="48" text-anchor="end" textLength="114.7" lengthAdjust="spacingAndGlyphs">Huh7</text>
<text transform="translate(1991.9,2574.5) rotate(-45)" font-size="48" text-anchor="end" textLength="238.4" lengthAdjust="spacingAndGlyphs">SMMC7721</text>
<text transform="translate(2130.4,2575.0) rotate(-45)" font-size="48" text-anchor="end" textLength="201.9" lengthAdjust="spacingAndGlyphs">SK-HEP-1</text>
<text transform="translate(1176.4,2069) rotate(-90)" font-size="48" text-anchor="middle" textLength="648" lengthAdjust="spacingAndGlyphs">intracellular m5c RNA (pg/mL)</text>
</g>
<g id="F">
<path d="M2504.2 2491V1862.3H2597.0V2491" fill="#000000" stroke="#000" stroke-width="12" stroke-linejoin="bevel"/>
<path d="M2643.2 2491V1795.9H2736.0V2491" fill="#A1A0A5" stroke="#000" stroke-width="12" stroke-linejoin="bevel"/>
<path d="M2782.2 2491V1783.8H2875.0V2491" fill="#808080" stroke="#000" stroke-width="12" stroke-linejoin="bevel"/>
<path d="M2921.2 2491V1812.6H3014.0V2491" fill="#D3D3D3" stroke="#000" stroke-width="12" stroke-linejoin="bevel"/>
<path d="M3060.2 2491V1752.2H3153.0V2491" fill="#636363" stroke="#000" stroke-width="12" stroke-linejoin="bevel"/>
<path d="M3199.2 2491V1756.1H3292.0V2491" fill="#A1A0A5" stroke="#000" stroke-width="12" stroke-linejoin="bevel"/>
<path d="M2527.6 1842H2573.6M2550.6 1842V1858.3" fill="none" stroke="#000" stroke-width="3.2"/>
<path d="M2666.6 1776.7H2712.6M2689.6 1776.7V1791.9" fill="none" stroke="#000" stroke-width="3.2"/>
<path d="M2805.6 1749.7H2851.6M2828.6 1749.7V1779.8" fill="none" stroke="#000" stroke-width="3.2"/>
<path d="M2944.6 1776.7H2990.6M2967.6 1776.7V1808.6" fill="none" stroke="#000" stroke-width="3.2"/>
<path d="M3222.6 1709.9H3268.6M3245.6 1709.9V1752.1" fill="none" stroke="#000" stroke-width="3.2"/>
<text x="2689.6" y="1755.5" font-size="48" text-anchor="middle">a</text>
<text x="2828.6" y="1726.5" font-size="48" text-anchor="middle">a</text>
<text x="3106.6" y="1726.2" font-size="48" text-anchor="middle">a</text>
<text x="3245.6" y="1688.9" font-size="48" text-anchor="middle">a</text>
<line x1="2481.6" y1="1652.5" x2="2481.6" y2="2495" stroke="#000" stroke-width="8.3"/>
<line x1="2447.2" y1="2491" x2="3318.7" y2="2491" stroke="#000" stroke-width="8.3"/>
<line x1="2447.2" y1="1656.8" x2="2481.6" y2="1656.8" stroke="#000" stroke-width="8.4"/>
<text x="2431.5" y="1675.3999999999999" font-size="50" text-anchor="end" textLength="78.8" lengthAdjust="spacingAndGlyphs">200</text>
<line x1="2447.2" y1="1865.4" x2="2481.6" y2="1865.4" stroke="#000" stroke-width="8.4"/>
<text x="2431.5" y="1884.0" font-size="50" text-anchor="end" textLength="78.8" lengthAdjust="spacingAndGlyphs">150</text>
<line x1="2447.2" y1="2073.9" x2="2481.6" y2="2073.9" stroke="#000" stroke-width="8.4"/>
<text x="2431.5" y="2092.5" font-size="50" text-anchor="end" textLength="78.8" lengthAdjust="spacingAndGlyphs">100</text>
<line x1="2447.2" y1="2282.5" x2="2481.6" y2="2282.5" stroke="#000" stroke-width="8.4"/>
<text x="2431.5" y="2301.1" font-size="50" text-anchor="end" textLength="52.5" lengthAdjust="spacingAndGlyphs">50</text>
<line x1="2447.2" y1="2491" x2="2481.6" y2="2491" stroke="#000" stroke-width="8.4"/>
<text x="2431.5" y="2509.6" font-size="50" text-anchor="end" textLength="26.3" lengthAdjust="spacingAndGlyphs">0</text>
<line x1="2550.6" y1="2491" x2="2550.6" y2="2525.3" stroke="#000" stroke-width="8"/>
<line x1="2689.6" y1="2491" x2="2689.6" y2="2525.3" stroke="#000" stroke-width="8"/>
<line x1="2828.6" y1="2491" x2="2828.6" y2="2525.3" stroke="#000" stroke-width="8"/>
<line x1="2967.6" y1="2491" x2="2967.6" y2="2525.3" stroke="#000" stroke-width="8"/>
<line x1="3106.6" y1="2491" x2="3106.6" y2="2525.3" stroke="#000" stroke-width="8"/>
<line x1="3245.6" y1="2491" x2="3245.6" y2="2525.3" stroke="#000" stroke-width="8"/>
<text transform="translate(2572.1,2573.5) rotate(-45)" font-size="48" text-anchor="end" textLength="85.5" lengthAdjust="spacingAndGlyphs">LO2</text>
<text transform="translate(2711.1,2573.5) rotate(-45)" font-size="48" text-anchor="end" textLength="143.7" lengthAdjust="spacingAndGlyphs">HepG2</text>
<text transform="translate(2851.1,2572.5) rotate(-45)" font-size="48" text-anchor="end" textLength="142.9" lengthAdjust="spacingAndGlyphs">HEP3B</text>
<text transform="translate(2989.1,2573.5) rotate(-45)" font-size="48" text-anchor="end" textLength="114.7" lengthAdjust="spacingAndGlyphs">Huh7</text>
<text transform="translate(3125.1,2574.5) rotate(-45)" font-size="48" text-anchor="end" textLength="238.4" lengthAdjust="spacingAndGlyphs">SMMC7721</text>
<text transform="translate(3263.1,2575.0) rotate(-45)" font-size="48" text-anchor="end" textLength="201.9" lengthAdjust="spacingAndGlyphs">SK-HEP-1</text>
<text transform="translate(2308,2071) rotate(-90)" font-size="48" text-anchor="middle" textLength="870" lengthAdjust="spacingAndGlyphs">m5c RNA in cellular supernatant (pg/mL)</text>
</g>
</svg>
</body></html>
